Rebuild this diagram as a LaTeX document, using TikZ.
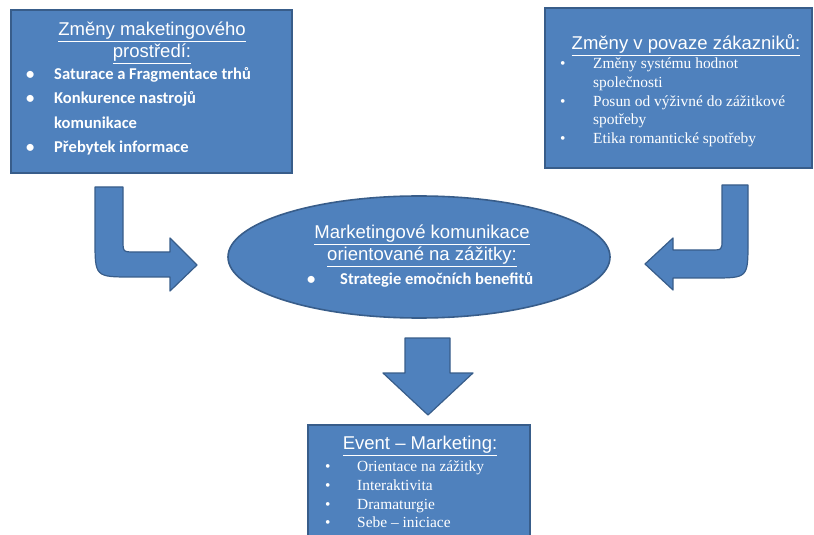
\documentclass[tikz,border=0pt]{standalone}
\usepackage{fontspec}
\setmainfont{Liberation Serif}
\newfontfamily\headfont{Liberation Sans}
\newfontfamily\listfont{Carlito}
\usetikzlibrary{shapes.geometric}
\definecolor{boxfill}{RGB}{79,129,189}
\definecolor{boxline}{RGB}{56,93,138}
\tikzset{
  panel/.style      = {draw=boxline, line width=1.6bp, fill=boxfill, inner sep=0pt},
  blockarrow/.style = {draw=boxline, line width=1.2bp, fill=boxfill, line join=round},
  headtext/.style   = {text=white, align=center, inner sep=0pt,
                       font=\headfont\fontsize{18.6}{22}\selectfont},
  sanslist/.style   = {text=white, align=left, inner sep=0pt,
                       font=\listfont\bfseries\fontsize{16.6}{24.6}\selectfont},
  seriflist/.style  = {text=white, align=left, inner sep=0pt,
                       font=\fontsize{15.5}{18.6}\selectfont},
}
\newcommand{\itm}[2][29bp]{\makebox[#1][l]{\textbullet}#2}
\newcommand{\cnt}[2][29bp]{\hspace*{#1}#2}

\begin{document}
\begin{tikzpicture}[x=1bp, y=-1bp]
    \useasboundingbox (0,0) rectangle (814,535);
    % --- panels -------------------------------------------------------
    \node[panel, minimum width=281bp, minimum height=163bp] (envbox) at (151.5,91.5) {};
    \node[panel, minimum width=267bp, minimum height=160bp] (custbox) at (678.5,88) {};
    \node[panel, ellipse, minimum width=382bp, minimum height=122bp] (mkbox) at (419,257) {};
    \node[panel, minimum width=222bp, minimum height=120bp] (eventbox) at (419,485) {};
    % --- headings -----------------------------------------------------
    \node[headtext] (envhead)   at (152,43)  {\underline{Změny maketingového}\\\underline{prostředí:}};
    \node[headtext] (custhead)  at (686,45)  {\underline{Změny v povaze zákazniků:}};
    \node[headtext] (mkhead)    at (422,246) {\underline{Marketingové komunikace}\\\underline{orientované na zážitky:}};
    \node[headtext] (eventhead) at (420,446) {\underline{Event – Marketing:}};
    % --- lists --------------------------------------------------------
    \node[sanslist, anchor=north west] (envlist) at (26,67)
      {\itm[28bp]{Saturace a Fragmentace trhů}\\
       \itm[28bp]{Konkurence nastrojů}\\
       \cnt[28bp]{komunikace}\\
       \itm[28bp]{Přebytek informace}};
    \node[seriflist, anchor=north west] (custlist) at (560,58)
      {\itm[33bp]{Změny systému hodnot}\\
       \cnt[33bp]{společnosti}\\
       \itm[33bp]{Posun od výživné do zážitkové}\\
       \cnt[33bp]{spotřeby}\\
       \itm[33bp]{Etika romantické spotřeby}};
    \node[sanslist, anchor=north west] (mklist) at (307,272)
      {\itm[33bp]{Strategie emočních benefitů}};
    \node[seriflist, anchor=north west] (eventlist) at (325,461)
      {\itm[32bp]{Orientace na zážitky}\\
       \itm[32bp]{Interaktivita}\\
       \itm[32bp]{Dramaturgie}\\
       \itm[32bp]{Sebe – iniciace}};
    % --- block arrows -------------------------------------------------
    \draw[blockarrow] (95,187) -- (123,187) -- (123,240) .. controls (123,252) .. (135,252)
      -- (170,252) -- (170,238) -- (197,265) -- (170,291) -- (170,277) -- (132,277)
      .. controls (95,277) .. (95,240) -- cycle;
    \draw[blockarrow] (748,185) -- (722,185) -- (722,240) .. controls (722,250) .. (710,250)
      -- (673,250) -- (673,238) -- (645,264) -- (673,290) -- (673,278) -- (712,278)
      .. controls (748,278) .. (748,242) -- cycle;
    \draw[blockarrow] (405,338) -- (450,338) -- (450,373) -- (473,373) -- (428,415)
      -- (383,373) -- (405,373) -- cycle;
  \end{tikzpicture}
\end{document}
